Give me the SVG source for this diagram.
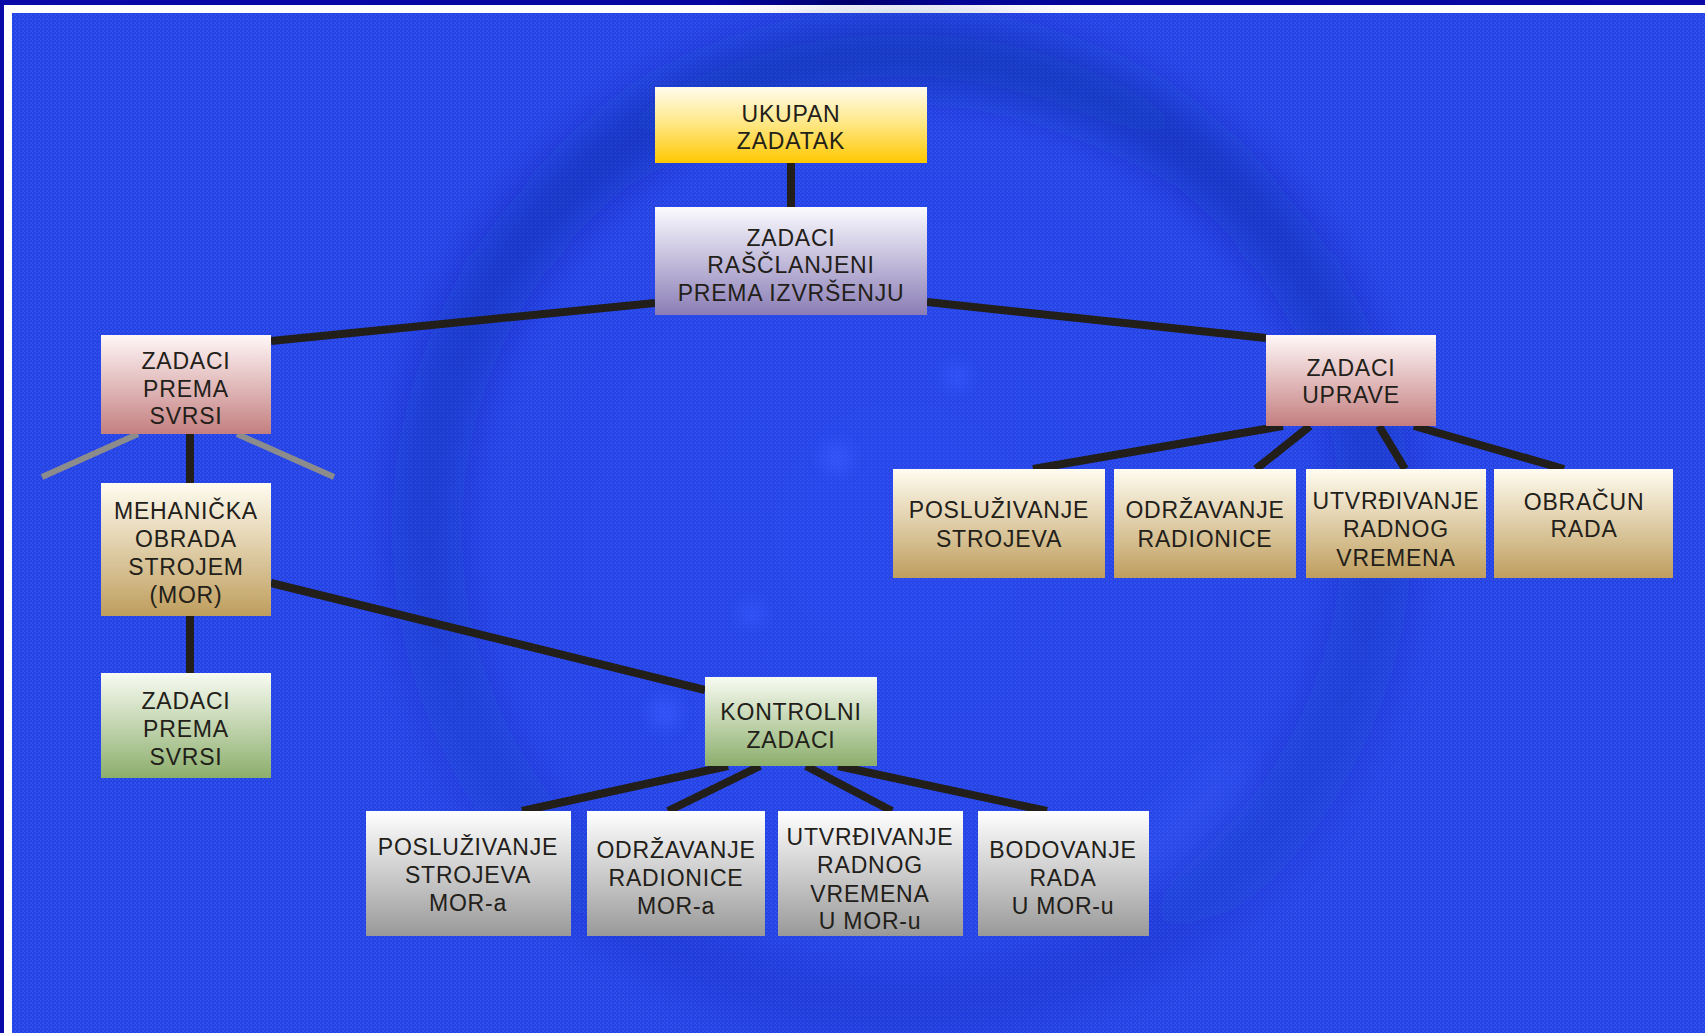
<svg xmlns="http://www.w3.org/2000/svg" width="1705" height="1033" viewBox="0 0 1705 1033">
  <defs>
    <pattern id="weave" width="4" height="4" patternUnits="userSpaceOnUse">
      <rect width="4" height="4" fill="#2643e0"/>
      <rect x="0" y="0" width="2" height="2" fill="#2e4ff3"/>
      <rect x="2" y="2" width="2" height="2" fill="#2e4ff3"/>
      <rect x="1" y="1" width="1" height="1" fill="#2039cc"/>
    </pattern>
    <linearGradient id="band" x1="0" y1="0" x2="1" y2="0">
      <stop offset="0" stop-color="#0a0aa8"/>
      <stop offset="0.42" stop-color="#0606a0"/>
      <stop offset="0.5" stop-color="#00006a"/>
      <stop offset="0.56" stop-color="#050596"/>
      <stop offset="1" stop-color="#0a0aa8"/>
    </linearGradient>
    <radialGradient id="glow" cx="902" cy="530" r="470" gradientUnits="userSpaceOnUse">
      <stop offset="0" stop-color="#3050ff" stop-opacity="0.2"/>
      <stop offset="1" stop-color="#3050ff" stop-opacity="0"/>
    </radialGradient>
    <linearGradient id="ringFade" x1="0" y1="0" x2="0" y2="1">
      <stop offset="0" stop-color="#0f2290" stop-opacity="0.4"/>
      <stop offset="0.6" stop-color="#0f2290" stop-opacity="0.2"/>
      <stop offset="1" stop-color="#0f2290" stop-opacity="0.12"/>
    </linearGradient>
    <filter id="soft" x="-20%" y="-20%" width="140%" height="140%">
      <feGaussianBlur stdDeviation="20"/>
    </filter>
    <filter id="spot" x="-100%" y="-100%" width="300%" height="300%">
      <feGaussianBlur stdDeviation="7"/>
    </filter>
    <linearGradient id="gYellow" x1="0" y1="0" x2="0" y2="1">
      <stop offset="0" stop-color="#fffcee"/>
      <stop offset="0.5" stop-color="#ffe680"/>
      <stop offset="1" stop-color="#ffc800"/>
    </linearGradient>
    <linearGradient id="gLilac" x1="0" y1="0" x2="0" y2="1">
      <stop offset="0" stop-color="#fbfbff"/>
      <stop offset="1" stop-color="#8a7db6"/>
    </linearGradient>
    <linearGradient id="gRose" x1="0" y1="0" x2="0" y2="1">
      <stop offset="0" stop-color="#fff7f7"/>
      <stop offset="1" stop-color="#c47f80"/>
    </linearGradient>
    <linearGradient id="gTan" x1="0" y1="0" x2="0" y2="1">
      <stop offset="0" stop-color="#fffcf0"/>
      <stop offset="1" stop-color="#bf9e5e"/>
    </linearGradient>
    <linearGradient id="gGreen" x1="0" y1="0" x2="0" y2="1">
      <stop offset="0" stop-color="#f8fbf2"/>
      <stop offset="1" stop-color="#8cae6c"/>
    </linearGradient>
    <linearGradient id="gGrey" x1="0" y1="0" x2="0" y2="1">
      <stop offset="0" stop-color="#ffffff"/>
      <stop offset="1" stop-color="#999999"/>
    </linearGradient>
    <style>
      .lbl { font-family: "Liberation Sans", Arial, sans-serif; font-size: 23px; fill: #222019; text-anchor: middle; letter-spacing: 0.8px; }
      .link { stroke: #221e19; stroke-width: 8; stroke-linecap: butt; fill: none; }
      .ghost { stroke: #8c8c8c; stroke-width: 6; fill: none; }
    </style>
  </defs>

  <!-- slide frame -->
  <rect width="1705" height="1033" fill="#ffffff"/>
  <rect x="0" y="0" width="1705" height="5" fill="url(#band)"/>
  <rect x="0" y="0" width="4" height="1033" fill="#0a0aa8"/>
  <rect x="12" y="13" width="1693" height="1020" fill="url(#weave)"/>

  <!-- background ring and highlights -->
  <g id="backdrop">
    <circle cx="902" cy="530" r="470" fill="url(#glow)"/>
    <circle cx="902" cy="530" r="475" fill="none" stroke="url(#ringFade)" stroke-width="70" filter="url(#soft)"/>
    <path d="M 1240 760 A 420 420 0 0 1 1130 870" fill="none" stroke="#4468ff" stroke-width="30" stroke-opacity="0.35" filter="url(#soft)"/>
    <g filter="url(#spot)" fill="#3a5cff" fill-opacity="0.55">
      <circle cx="957" cy="377" r="12"/>
      <circle cx="837" cy="458" r="16"/>
      <circle cx="752" cy="614" r="12"/>
      <circle cx="665" cy="713" r="16"/>
    </g>
  </g>

  <!-- connectors -->
  <g id="connectors">
    <line class="link" x1="791" y1="163" x2="791" y2="207"/>
    <line class="link" x1="655" y1="303" x2="271" y2="341"/>
    <line class="link" x1="927" y1="302" x2="1266" y2="338"/>
    <line class="ghost" x1="42" y1="477" x2="138" y2="434"/>
    <line class="ghost" x1="237" y1="434" x2="334" y2="477"/>
    <line class="link" x1="190" y1="434" x2="190" y2="483"/>
    <line class="link" x1="190" y1="616" x2="190" y2="673"/>
    <line class="link" x1="271" y1="583" x2="705" y2="690"/>
    <line class="link" x1="1283" y1="426" x2="1033" y2="469"/>
    <line class="link" x1="1310" y1="426" x2="1256" y2="469"/>
    <line class="link" x1="1379" y1="426" x2="1405" y2="469"/>
    <line class="link" x1="1414" y1="426" x2="1564" y2="469"/>
    <line class="link" x1="728" y1="766" x2="522" y2="811"/>
    <line class="link" x1="760" y1="766" x2="668" y2="811"/>
    <line class="link" x1="806" y1="766" x2="892" y2="811"/>
    <line class="link" x1="838" y1="766" x2="1047" y2="811"/>
  </g>

  <!-- nodes -->
  <g id="ukupan-zadatak">
    <rect x="655" y="87" width="272" height="76" fill="url(#gYellow)"/>
    <text class="lbl" x="791" y="122">UKUPAN</text>
    <text class="lbl" x="791" y="149">ZADATAK</text>
  </g>
  <g id="zadaci-rasclanjeni">
    <rect x="655" y="207" width="272" height="108" fill="url(#gLilac)"/>
    <text class="lbl" x="791" y="246">ZADACI</text>
    <text class="lbl" x="791" y="273">RAŠČLANJENI</text>
    <text class="lbl" x="791" y="301">PREMA IZVRŠENJU</text>
  </g>
  <g id="zadaci-prema-svrsi">
    <rect x="101" y="335" width="170" height="99" fill="url(#gRose)"/>
    <text class="lbl" x="186" y="369">ZADACI</text>
    <text class="lbl" x="186" y="397">PREMA</text>
    <text class="lbl" x="186" y="424">SVRSI</text>
  </g>
  <g id="mehanicka-obrada">
    <rect x="101" y="483" width="170" height="133" fill="url(#gTan)"/>
    <text class="lbl" x="186" y="519">MEHANIČKA</text>
    <text class="lbl" x="186" y="547">OBRADA</text>
    <text class="lbl" x="186" y="575">STROJEM</text>
    <text class="lbl" x="186" y="603">(MOR)</text>
  </g>
  <g id="zadaci-prema-svrsi-mor">
    <rect x="101" y="673" width="170" height="105" fill="url(#gGreen)"/>
    <text class="lbl" x="186" y="709">ZADACI</text>
    <text class="lbl" x="186" y="737">PREMA</text>
    <text class="lbl" x="186" y="765">SVRSI</text>
  </g>
  <g id="zadaci-uprave">
    <rect x="1266" y="335" width="170" height="91" fill="url(#gRose)"/>
    <text class="lbl" x="1351" y="376">ZADACI</text>
    <text class="lbl" x="1351" y="403">UPRAVE</text>
  </g>
  <g id="posluzivanje-strojeva">
    <rect x="893" y="469" width="212" height="109" fill="url(#gTan)"/>
    <text class="lbl" x="999" y="518">POSLUŽIVANJE</text>
    <text class="lbl" x="999" y="547">STROJEVA</text>
  </g>
  <g id="odrzavanje-radionice">
    <rect x="1114" y="469" width="182" height="109" fill="url(#gTan)"/>
    <text class="lbl" x="1205" y="518">ODRŽAVANJE</text>
    <text class="lbl" x="1205" y="547">RADIONICE</text>
  </g>
  <g id="utvrdivanje-vremena">
    <rect x="1306" y="469" width="180" height="109" fill="url(#gTan)"/>
    <text class="lbl" x="1396" y="509">UTVRĐIVANJE</text>
    <text class="lbl" x="1396" y="537">RADNOG</text>
    <text class="lbl" x="1396" y="566">VREMENA</text>
  </g>
  <g id="obracun-rada">
    <rect x="1494" y="469" width="179" height="109" fill="url(#gTan)"/>
    <text class="lbl" x="1584" y="510">OBRAČUN</text>
    <text class="lbl" x="1584" y="537">RADA</text>
  </g>
  <g id="kontrolni-zadaci">
    <rect x="705" y="677" width="172" height="89" fill="url(#gGreen)"/>
    <text class="lbl" x="791" y="720">KONTROLNI</text>
    <text class="lbl" x="791" y="748">ZADACI</text>
  </g>
  <g id="posluzivanje-mor">
    <rect x="366" y="811" width="205" height="125" fill="url(#gGrey)"/>
    <text class="lbl" x="468" y="855">POSLUŽIVANJE</text>
    <text class="lbl" x="468" y="883">STROJEVA</text>
    <text class="lbl" x="468" y="911">MOR-a</text>
  </g>
  <g id="odrzavanje-mor">
    <rect x="587" y="811" width="178" height="125" fill="url(#gGrey)"/>
    <text class="lbl" x="676" y="858">ODRŽAVANJE</text>
    <text class="lbl" x="676" y="886">RADIONICE</text>
    <text class="lbl" x="676" y="914">MOR-a</text>
  </g>
  <g id="utvrdivanje-mor">
    <rect x="778" y="811" width="185" height="125" fill="url(#gGrey)"/>
    <text class="lbl" x="870" y="845">UTVRĐIVANJE</text>
    <text class="lbl" x="870" y="873">RADNOG</text>
    <text class="lbl" x="870" y="902">VREMENA</text>
    <text class="lbl" x="870" y="929">U MOR-u</text>
  </g>
  <g id="bodovanje-mor">
    <rect x="978" y="811" width="171" height="125" fill="url(#gGrey)"/>
    <text class="lbl" x="1063" y="858">BODOVANJE</text>
    <text class="lbl" x="1063" y="886">RADA</text>
    <text class="lbl" x="1063" y="914">U MOR-u</text>
  </g>
</svg>
